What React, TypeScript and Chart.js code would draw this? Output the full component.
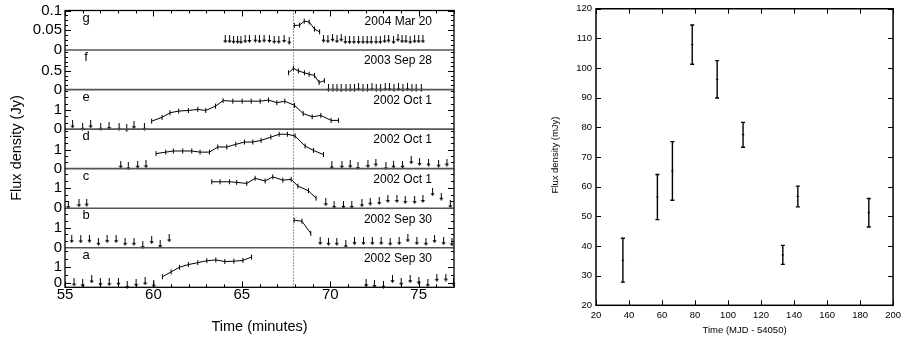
import React, { useEffect, useRef } from 'react';
import { Chart, registerables } from 'chart.js';

Chart.register(...registerables);
Chart.defaults.color = '#000';

const FONT = '"Liberation Sans", Arial, Helvetica, sans-serif';

// ---------- Left panel: time axis ----------
const timeMin = 55;
const timeMax = 77;
const timeTicks = [55, 60, 65, 70, 75];
const flareTime = 67.9;

// strips, bottom (a) to top (g)
const stripLetters = ['a', 'b', 'c', 'd', 'e', 'f', 'g'];
const stripDates = ['2002 Sep 30', '2002 Sep 30', '2002 Oct 1', '2002 Oct 1', '2002 Oct 1', '2003 Sep 28', '2004 Mar 20'];
const stripMin = [-0.25, 0, 0, 0, 0, 0, 0];
const stripMax = [2.22, 1.98, 1.93, 2.08, 2.08, 1.06, 0.1];
const stripTicks = [[0, 1], [0, 1], [0, 1], [0, 1], [0, 1], [0, 0.5], [0, 0.05, 0.1]];
const stripMinor = [0.5, 0.3333, 0.3333, 0.3333, 0.3333, 0.125, 0.0125];

// strip a — 2002 Sep 30
const aDetT = [60.51, 61.0, 61.47, 61.98, 62.51, 63.02, 63.53, 64.04, 64.55, 65.06, 65.55];
const aDetV = [0.41, 0.71, 1.0, 1.17, 1.29, 1.41, 1.46, 1.36, 1.38, 1.43, 1.64];
const aLimT = [55.51, 56.0, 56.51, 57.0, 57.5, 58.02, 58.52, 59.02, 59.53, 60.02, 72.03, 72.5, 73.01, 73.52, 74.01, 74.52, 75.01, 75.52, 76.03, 76.54, 76.97];
const aLimV = [0.05, 0.0, 0.24, 0.07, 0.07, 0.1, -0.1, 0.03, 0.12, -0.02, 0.01, -0.04, -0.09, 0.26, 0.1, 0.26, 0.17, 0.01, 0.34, 0.36, 0.1];

// strip b — 2002 Sep 30
const bDetT = [67.96, 68.4, 68.9];
const bDetV = [1.38, 1.33, 0.72];
const bLimT = [55.38, 55.89, 56.38, 56.89, 57.38, 57.89, 58.4, 58.9, 59.4, 59.9, 60.38, 60.89, 69.43, 69.9, 70.37, 70.88, 71.37, 71.88, 72.38, 72.88, 73.39, 73.9, 74.39, 74.9, 75.41, 75.9, 76.41, 76.88];
const bLimV = [0.43, 0.42, 0.45, 0.3, 0.43, 0.43, 0.3, 0.3, 0.13, 0.38, 0.18, 0.47, 0.33, 0.3, 0.3, 0.17, 0.33, 0.33, 0.33, 0.33, 0.3, 0.33, 0.47, 0.33, 0.3, 0.43, 0.33, 0.27];

// strip c — 2002 Oct 1
const cDetT = [63.3, 63.77, 64.3, 64.71, 65.28, 65.75, 66.32, 66.75, 67.32, 67.79, 68.17, 68.77, 69.2];
const cDetV = [1.29, 1.29, 1.29, 1.26, 1.21, 1.46, 1.33, 1.53, 1.37, 1.41, 1.08, 0.85, 0.49];
const cLimT = [55.19, 55.79, 56.23, 69.75, 70.22, 70.75, 71.22, 71.79, 72.26, 72.77, 73.26, 73.77, 74.24, 74.77, 75.24, 75.79, 76.28, 76.79];
const cLimV = [0.15, 0.24, 0.27, 0.29, 0.16, 0.16, 0.16, 0.24, 0.32, 0.35, 0.45, 0.45, 0.4, 0.4, 0.45, 0.78, 0.56, 0.19];

// strip d — 2002 Oct 1
const dDetT = [60.15, 60.7, 61.13, 61.66, 62.17, 62.64, 63.17, 63.64, 64.15, 64.66, 65.15, 65.62, 66.09, 66.64, 67.11, 67.58, 68.01, 68.58, 69.05, 69.62];
const dDetV = [0.79, 0.87, 0.93, 0.93, 0.93, 0.87, 0.87, 1.14, 1.14, 1.28, 1.4, 1.4, 1.49, 1.66, 1.81, 1.81, 1.72, 1.19, 0.96, 0.74];
const dLimT = [58.15, 58.58, 59.11, 59.58, 70.09, 70.66, 71.13, 71.57, 72.13, 72.58, 73.15, 73.58, 74.09, 74.58, 75.05, 75.56, 76.13, 76.6];
const dLimV = [0.21, 0.12, 0.21, 0.23, 0.17, 0.21, 0.23, 0.14, 0.24, 0.32, 0.12, 0.21, 0.21, 0.44, 0.35, 0.32, 0.26, 0.32];

// strip e — 2002 Oct 1
const eDetT = [59.9, 60.49, 60.94, 61.43, 61.98, 62.51, 62.96, 63.51, 63.94, 64.49, 65.02, 65.53, 66.04, 66.51, 66.98, 67.43, 67.98, 68.47, 68.98, 69.47, 70.05, 70.47];
const eDetV = [0.42, 0.62, 0.86, 0.95, 0.98, 1.04, 0.98, 1.21, 1.5, 1.47, 1.47, 1.47, 1.47, 1.53, 1.39, 1.47, 1.25, 0.82, 0.65, 0.72, 0.46, 0.46];
const eLimT = [55.43, 56.0, 56.45, 57.02, 57.49, 58.06, 58.49, 58.9, 59.49];
const eLimV = [0.25, 0.12, 0.25, 0.12, 0.16, 0.12, 0.07, 0.21, 0.12];

// strip f — 2003 Sep 28
const fDetT = [67.64, 67.92, 68.2, 68.54, 68.81, 69.11, 69.37, 69.67];
const fDetV = [0.45, 0.57, 0.5, 0.45, 0.41, 0.38, 0.19, 0.24];
const fLimT = [69.9, 70.15, 70.38, 70.62, 70.89, 71.13, 71.37, 71.6, 71.85, 72.11, 72.36, 72.6, 72.85, 73.11, 73.35, 73.6, 73.86, 74.11, 74.37, 74.62, 74.86, 75.15];
const fLimV = [0.05, 0.05, 0.05, 0.04, 0.05, 0.05, 0.05, 0.06, 0.05, 0.05, 0.06, 0.05, 0.05, 0.06, 0.06, 0.05, 0.06, 0.05, 0.06, 0.05, 0.05, 0.05];

// strip g — 2004 Mar 20
const gDetT = [67.97, 68.27, 68.53, 68.81, 69.11, 69.4];
const gDetV = [0.062, 0.063, 0.073, 0.071, 0.053, 0.046];
const gLimT = [64.06, 64.31, 64.53, 64.76, 64.95, 65.19, 65.43, 65.76, 66.0, 66.26, 66.56, 66.83, 67.09, 67.39, 67.68, 69.62, 69.87, 70.13, 70.38, 70.62, 70.85, 71.09, 71.34, 71.6, 71.85, 72.09, 72.32, 72.59, 72.83, 73.08, 73.3, 73.58, 73.83, 74.06, 74.28, 74.52, 74.77, 75.0, 75.24];
const gLimV = [0.027, 0.027, 0.026, 0.026, 0.025, 0.027, 0.028, 0.029, 0.027, 0.029, 0.028, 0.026, 0.026, 0.028, 0.024, 0.029, 0.027, 0.031, 0.027, 0.031, 0.025, 0.025, 0.025, 0.025, 0.025, 0.025, 0.025, 0.025, 0.025, 0.027, 0.029, 0.025, 0.031, 0.027, 0.027, 0.025, 0.027, 0.027, 0.027];

const stripDetT = [aDetT, bDetT, cDetT, dDetT, eDetT, fDetT, gDetT];
const stripDetV = [aDetV, bDetV, cDetV, dDetV, eDetV, fDetV, gDetV];
const stripLimT = [aLimT, bLimT, cLimT, dLimT, eLimT, fLimT, gLimT];
const stripLimV = [aLimV, bLimV, cLimV, dLimV, eLimV, fLimV, gLimV];

// ---------- Right panel ----------
const mjdX = [36.3, 57.2, 66.3, 78.3, 93.4, 109.1, 133.2, 142.3, 185.3];
const fluxVal = [35.2, 56.5, 65.3, 107.9, 96.2, 77.5, 37.0, 56.7, 51.2];
const fluxErr = [7.4, 7.6, 9.9, 6.6, 6.3, 4.2, 3.2, 3.5, 4.8];
const mjdTicks = [20, 40, 60, 80, 100, 120, 140, 160, 180, 200];
const mjyTicks = [20, 30, 40, 50, 60, 70, 80, 90, 100, 110, 120];

function makeArrow(): HTMLCanvasElement {
  const c = document.createElement('canvas');
  c.width = 5;
  c.height = 8;
  const g = c.getContext('2d')!;
  g.strokeStyle = '#000';
  g.lineWidth = 1;
  g.beginPath();
  g.moveTo(2.5, 0);
  g.lineTo(2.5, 6);
  g.stroke();
  g.fillStyle = '#000';
  g.beginPath();
  g.moveTo(0.5, 5);
  g.lineTo(4.5, 5);
  g.lineTo(2.5, 8);
  g.closePath();
  g.fill();
  return c;
}

function hLine(ctx: CanvasRenderingContext2D, x1: number, x2: number, y: number) {
  ctx.beginPath();
  ctx.moveTo(x1, y);
  ctx.lineTo(x2, y);
  ctx.stroke();
}
function vLine(ctx: CanvasRenderingContext2D, x: number, y1: number, y2: number) {
  ctx.beginPath();
  ctx.moveTo(x, y1);
  ctx.lineTo(x, y2);
  ctx.stroke();
}

const leftDecor = {
  id: 'leftDecor',
  beforeDatasetsDraw(chart: any) {
    const { ctx, chartArea } = chart;
    const px = Math.round(chart.scales.x.getPixelForValue(flareTime)) + 0.5;
    ctx.save();
    ctx.strokeStyle = '#333';
    ctx.lineWidth = 1;
    ctx.setLineDash([1, 2]);
    vLine(ctx, px, chartArea.top, chartArea.bottom);
    ctx.restore();
  },
  afterDraw(chart: any) {
    const { ctx, chartArea } = chart;
    const { left, right, top, bottom } = chartArea;
    ctx.save();
    // strip separators
    for (let i = 0; i < stripLetters.length - 1; i++) {
      const s = chart.scales['y' + i];
      ctx.strokeStyle = '#555';
      ctx.lineWidth = 1.6;
      hLine(ctx, left, right, s.top);
    }
    // y ticks (inward, both sides)
    ctx.strokeStyle = '#000';
    ctx.lineWidth = 1;
    for (let i = 0; i < stripLetters.length; i++) {
      const s = chart.scales['y' + i];
      const step = stripMinor[i];
      const start = Math.ceil((stripMin[i] - 1e-9) / step) * step;
      for (let v = start; v <= stripMax[i] + 1e-9; v += step) {
        const y = Math.round(s.getPixelForValue(v)) + 0.5;
        if (y < s.top + 1 || y > s.bottom - 1) continue;
        hLine(ctx, left, left + 3, y);
        hLine(ctx, right - 3, right, y);
      }
      for (const v of stripTicks[i]) {
        const y = Math.round(s.getPixelForValue(v)) + 0.5;
        if (y < s.top + 1 || y > s.bottom - 1) continue;
        hLine(ctx, left, left + 6, y);
        hLine(ctx, right - 6, right, y);
      }
    }
    // x ticks top & bottom
    const xs = chart.scales.x;
    for (let t = timeMin; t <= timeMax; t += 1) {
      const x = Math.round(xs.getPixelForValue(t)) + 0.5;
      const major = timeTicks.includes(t);
      const len = major ? 6 : 3;
      vLine(ctx, x, top, top + len);
      vLine(ctx, x, bottom - len, bottom);
    }
    // frame
    ctx.strokeStyle = '#000';
    ctx.lineWidth = 1.3;
    ctx.strokeRect(left, top, right - left, bottom - top);
    // labels
    ctx.fillStyle = '#000';
    ctx.textBaseline = 'middle';
    for (let i = 0; i < stripLetters.length; i++) {
      const s = chart.scales['y' + i];
      ctx.font = `13px ${FONT}`;
      ctx.textAlign = 'center';
      ctx.fillText(stripLetters[i], left + 21, s.top + 7.5);
      ctx.font = `12px ${FONT}`;
      ctx.textAlign = 'right';
      ctx.fillText(stripDates[i], left + 367, s.top + 11);
    }
    // y title
    ctx.save();
    ctx.translate(17, 148);
    ctx.rotate(-Math.PI / 2);
    ctx.textAlign = 'center';
    ctx.font = `14.5px ${FONT}`;
    ctx.fillText('Flux density (Jy)', 0, 0);
    ctx.restore();
    ctx.restore();
  },
};

const rightDecor = {
  id: 'rightDecor',
  afterDraw(chart: any) {
    const { ctx, chartArea } = chart;
    const { left, right, top, bottom } = chartArea;
    const xs = chart.scales.x;
    const ys = chart.scales.y;
    ctx.save();
    ctx.strokeStyle = '#000';
    ctx.lineWidth = 1;
    for (const v of mjyTicks) {
      const y = Math.round(ys.getPixelForValue(v)) + 0.5;
      hLine(ctx, left, left + 5, y);
      hLine(ctx, right - 5, right, y);
    }
    for (const v of mjdTicks) {
      const x = Math.round(xs.getPixelForValue(v)) + 0.5;
      vLine(ctx, x, top, top + 5);
      vLine(ctx, x, bottom - 5, bottom);
    }
    ctx.lineWidth = 1.5;
    ctx.strokeRect(left, top, right - left, bottom - top);
    ctx.fillStyle = '#000';
    ctx.translate(85, 155);
    ctx.rotate(-Math.PI / 2);
    ctx.textAlign = 'center';
    ctx.textBaseline = 'middle';
    ctx.font = `9.5px ${FONT}`;
    ctx.fillText('Flux density (mJy)', 0, 0);
    ctx.restore();
  },
};

function buildLeft(arrow: HTMLCanvasElement): any {
  const datasets: any[] = [];
  const scales: any = {
    x: {
      type: 'linear',
      position: 'bottom',
      min: timeMin,
      max: timeMax,
      afterBuildTicks: (s: any) => {
        s.ticks = timeTicks.map((v) => ({ value: v }));
      },
      ticks: { font: { family: FONT, size: 15, lineHeight: 1 }, color: '#000', padding: 0, autoSkip: false, callback: (v: any) => String(v) },
      grid: { drawOnChartArea: false, drawTicks: false },
      border: { display: false },
      title: { display: true, text: 'Time (minutes)', font: { family: FONT, size: 14.5 }, color: '#000', padding: { top: 0, bottom: 4.3 } },
      afterFit: (s: any) => {
        s.height = 52.7;
      },
    },
  };
  stripLetters.forEach((_, i) => {
    const id = 'y' + i;
    scales[id] = {
      type: 'linear',
      position: 'left',
      stack: 'strips',
      stackWeight: 1,
      min: stripMin[i],
      max: stripMax[i],
      afterBuildTicks: (s: any) => {
        s.ticks = stripTicks[i].map((v) => ({ value: v }));
      },
      ticks: { font: { family: FONT, size: 15, lineHeight: 1 }, color: '#000', padding: 3, autoSkip: false, callback: (v: any) => String(v) },
      grid: { drawOnChartArea: false, drawTicks: false },
      border: { display: false },
      afterFit: (s: any) => {
        s.width = 65;
      },
    };
    if (stripDetT[i].length) {
      datasets.push({
        data: stripDetT[i].map((t, k) => ({ x: t, y: stripDetV[i][k] })),
        yAxisID: id,
        showLine: true,
        borderColor: '#000',
        borderWidth: 1,
        pointStyle: 'line',
        rotation: 90,
        pointRadius: 2.5,
        pointBorderWidth: 1,
        pointBorderColor: '#000',
        clip: false,
      });
    }
    datasets.push({
      data: stripLimT[i].map((t, k) => ({ x: t, y: stripLimV[i][k] })),
      yAxisID: id,
      showLine: false,
      pointStyle: arrow,
      pointRadius: 3,
      clip: false,
    });
  });
  return {
    type: 'scatter',
    data: { datasets },
    options: {
      responsive: false,
      animation: false,
      events: [],
      layout: { padding: { top: 10, right: 16, bottom: 0, left: 0 } },
      plugins: { legend: { display: false }, tooltip: { enabled: false } },
      scales,
    },
    plugins: [leftDecor],
  };
}

function buildRight(): any {
  const datasets: any[] = mjdX.map((x, i) => ({
    data: [
      { x, y: fluxVal[i] - fluxErr[i] },
      { x, y: fluxVal[i] + fluxErr[i] },
    ],
    showLine: true,
    borderColor: '#000',
    borderWidth: 1.4,
    pointStyle: 'line',
    pointRadius: 2,
    pointBorderWidth: 1.4,
    pointBorderColor: '#000',
  }));
  datasets.push({
    data: mjdX.map((x, i) => ({ x, y: fluxVal[i] })),
    showLine: false,
    pointStyle: 'line',
    pointRadius: 1.2,
    pointBorderWidth: 1,
    pointBorderColor: '#000',
  });
  return {
    type: 'scatter',
    data: { datasets },
    options: {
      responsive: false,
      animation: false,
      events: [],
      layout: { padding: { top: 4, right: 8.3, bottom: 0, left: 0 } },
      plugins: { legend: { display: false }, tooltip: { enabled: false } },
      scales: {
        x: {
          type: 'linear',
          min: 20,
          max: 200,
          afterBuildTicks: (s: any) => {
            s.ticks = mjdTicks.map((v) => ({ value: v }));
          },
          ticks: { font: { family: FONT, size: 9.5, lineHeight: 1 }, color: '#000', padding: 5, maxRotation: 0, autoSkip: false },
          grid: { drawOnChartArea: false, drawTicks: false },
          border: { display: false },
          title: { display: true, text: 'Time (MJD - 54050)', font: { family: FONT, size: 9.5 }, color: '#000', padding: { top: 0, bottom: 4.3 } },
          afterFit: (s: any) => {
            s.height = 34.7;
          },
        },
        y: {
          type: 'linear',
          min: 20,
          max: 120,
          afterBuildTicks: (s: any) => {
            s.ticks = mjyTicks.map((v) => ({ value: v }));
          },
          ticks: { font: { family: FONT, size: 9.5, lineHeight: 1 }, color: '#000', padding: 4, autoSkip: false },
          grid: { drawOnChartArea: false, drawTicks: false },
          border: { display: false },
          afterFit: (s: any) => {
            s.width = 126;
          },
        },
      },
    },
    plugins: [rightDecor],
  };
}

export default function App() {
  const leftRef = useRef<HTMLCanvasElement>(null);
  const rightRef = useRef<HTMLCanvasElement>(null);
  useEffect(() => {
    const arrow = makeArrow();
    const l = new Chart(leftRef.current!, buildLeft(arrow));
    const r = new Chart(rightRef.current!, buildRight());
    return () => {
      l.destroy();
      r.destroy();
    };
  }, []);
  return (
    <div style={{ position: 'absolute', left: 0, top: 0, width: 906, height: 340, background: '#fff' }}>
      <canvas ref={leftRef} width={470} height={340} style={{ position: 'absolute', left: 0, top: 0 }} />
      <canvas ref={rightRef} width={436} height={340} style={{ position: 'absolute', left: 470, top: 0 }} />
    </div>
  );
}
